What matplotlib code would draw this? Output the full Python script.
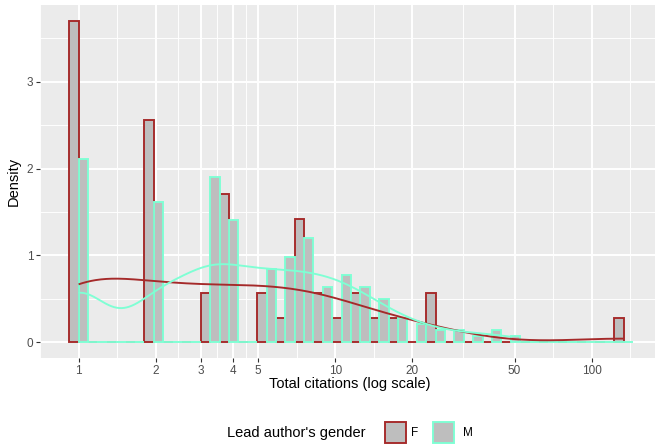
import numpy as np
import matplotlib
matplotlib.use("Agg")
import matplotlib.pyplot as plt
from matplotlib.patches import Rectangle

# ---------------- data ----------------
groups = ["F", "M"]
f_citations = [1, 2, 3, 4, 5, 6, 7, 8, 9, 10, 12, 13, 15, 18, 24, 25, 133]
f_counts = [13, 9, 2, 6, 2, 1, 3, 2, 2, 1, 1, 1, 1, 1, 1, 1, 1]
m_citations = [1, 2, 3, 4, 5, 6, 7, 8, 9, 10, 11, 12, 13, 14, 15, 16, 17, 18,
               20, 21, 22, 23, 25, 28, 30, 35, 40, 42, 48]
m_counts = [30, 23, 27, 20, 12, 14, 9, 8, 9, 6, 5, 5, 4, 3, 2, 2, 2, 2,
            1, 1, 1, 1, 1, 1, 1, 1, 1, 1, 1]
x_breaks = [1, 2, 3, 4, 5, 10, 20, 50, 100]
x_labels = ["1", "2", "3", "4", "5", "10", "20", "50", "100"]
y_breaks = [0, 1, 2, 3]
y_labels = ["0", "1", "2", "3"]

outline = {"F": "#A52A2A", "M": "#7FFFD4"}
bw_adjust = {"F": 1.0, "M": 0.86}
bar_fill = "#BEBEBE"

plt.rcParams["font.family"] = ["Liberation Sans", "DejaVu Sans"]

logs = {
    "F": np.log10(np.repeat(f_citations, f_counts)),
    "M": np.log10(np.repeat(m_citations, m_counts)),
}
all_log = np.concatenate([logs["F"], logs["M"]])
n_bins = 30
lo, hi = all_log.min(), all_log.max()
w = (hi - lo) / (n_bins - 1)
edges = lo - w / 2 + w * np.arange(n_bins + 1)
dens = {g: np.histogram(logs[g], bins=edges)[0] / (len(logs[g]) * w) for g in groups}


def nrd0(x):
    sd = np.std(x, ddof=1)
    q75, q25 = np.percentile(x, [75, 25])
    s = min(sd, (q75 - q25) / 1.34)
    return 0.9 * s * len(x) ** -0.2


def kde(x, adjust):
    grid = np.linspace(x.min(), x.max(), 512)
    bw = nrd0(x) * adjust
    d = np.exp(-0.5 * ((grid[:, None] - x[None, :]) / bw) ** 2).sum(1)
    d /= len(x) * bw * np.sqrt(2 * np.pi)
    return grid, d


W, H = 655, 445
fig = plt.figure(figsize=(W / 100, H / 100), dpi=100)
panel_l, panel_r, panel_t, panel_b = 40, 661.1, 5, 358.3
ax = fig.add_axes([panel_l / W, 1 - panel_b / H, (panel_r - panel_l) / W, (panel_b - panel_t) / H])
ax.set_facecolor("#EBEBEB")
for s in ax.spines.values():
    s.set_visible(False)

lw = 1.37
# dodged histogram: group F first, then group M
for gi, g in enumerate(groups):
    left = edges[:-1] + gi * w / 2
    h = dens[g]
    nz = h > 0
    ax.bar(left[nz], h[nz], width=w / 2, align="edge", color=bar_fill,
           edgecolor=outline[g], linewidth=lw, zorder=2 + gi * 0.2)
    # empty bins: zero-height outline along the baseline
    zs = ~nz
    if g == "F":
        ax.hlines(np.zeros(zs.sum()), left[zs], left[zs] + w / 2, color=outline[g],
                  lw=lw, zorder=1.9)
    else:
        ax.hlines(np.zeros(zs.sum()), edges[:-1][zs], edges[1:][zs], color=outline[g],
                  lw=lw, zorder=2.3)

for g in groups:
    gx, gy = kde(logs[g], bw_adjust[g])
    ax.plot(gx, gy, color=outline[g], lw=lw, zorder=3, solid_capstyle="butt")

# limits with 5% expansion like ggplot
xmin_d, xmax_d = edges[0], edges[-1]
xr = xmax_d - xmin_d
ax.set_xlim(xmin_d - 0.05 * xr, xmax_d + 0.05 * xr)
ymax_d = max(d.max() for d in dens.values())
ax.set_ylim(-0.05 * ymax_d, ymax_d * 1.05)

xt = np.log10(x_breaks)
ax.set_xticks(xt)
ax.set_xticklabels(x_labels)
ext = np.concatenate([[xt[0] - (xt[1] - xt[0])], xt, [xt[-1] + (xt[-1] - xt[-2])]])
ax.set_xticks((ext[:-1] + ext[1:]) / 2, minor=True)
ax.set_yticks(y_breaks)
ax.set_yticklabels(y_labels)
ax.set_yticks([0.5, 1.5, 2.5, 3.5], minor=True)
ax.tick_params(which="major", length=2.64, width=0.8, color="#333333",
               labelcolor="#4D4D4D", labelsize=8.45, pad=2.1)
ax.tick_params(which="minor", length=0)
ax.grid(which="major", color="white", lw=1.37, zorder=0)
ax.grid(which="minor", color="white", lw=0.68, zorder=0)
ax.set_axisbelow(True)

fig.text(350 / W, 1 - 384 / H, "Total citations (log scale)", ha="center", va="center",
         fontsize=10.56)
fig.text(14 / W, 1 - 181.5 / H, "Density", ha="center", va="center", rotation=90,
         fontsize=10.56)

# legend
fig.text(227 / W, 1 - 433 / H, "Lead author's gender", ha="left", va="center", fontsize=10.56)
key_centers = {"F": 395.5, "M": 443.5}
label_left = {"F": 411, "M": 463}
ks = 21
for g in groups:
    cx = key_centers[g]
    fig.add_artist(Rectangle(((cx - ks / 2) / W, 1 - (432 + ks / 2) / H), ks / W, ks / H,
                             transform=fig.transFigure, facecolor=bar_fill,
                             edgecolor=outline[g], lw=lw))
    fig.text(label_left[g] / W, 1 - 433 / H, g, ha="left", va="center", fontsize=8.45)

fig.savefig("out.png", dpi=100)
